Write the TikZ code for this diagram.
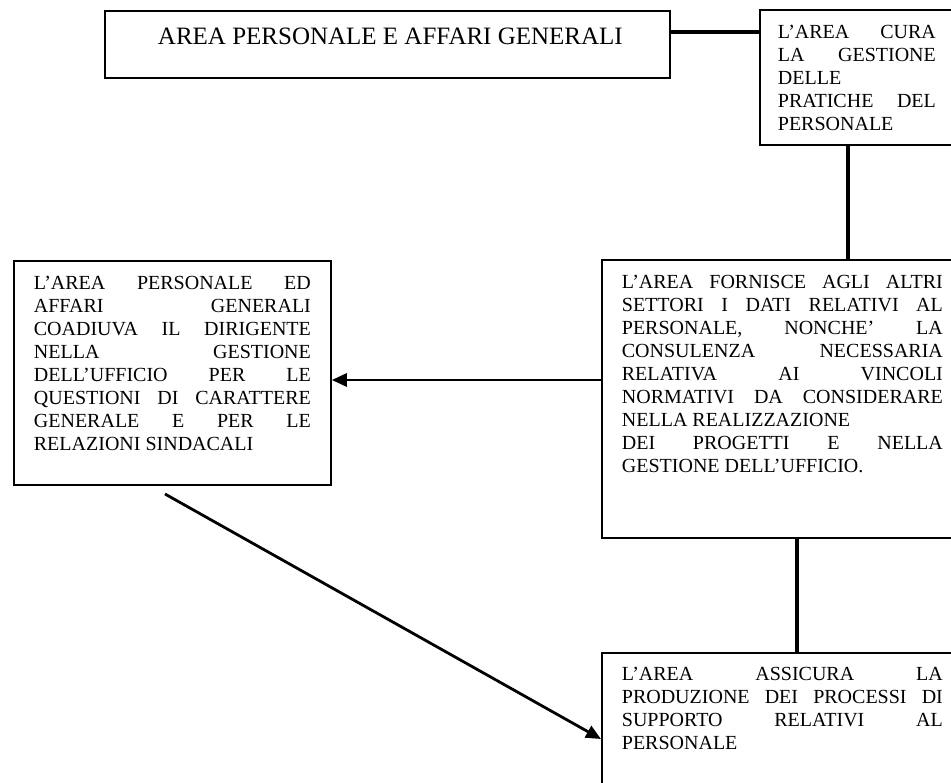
\documentclass[tikz,border=0pt]{standalone}
\usepackage{fontspec}
\setmainfont{Liberation Serif}
\usetikzlibrary{arrows.meta}

% A text panel: #1 text width, #2 box height, #3 first baseline below the top, #4 lines
\newcommand{\panel}[4]{\vbox to #2{\hsize=#1\relax\lineskiplimit=-100pt
  \hbox{}\vskip\dimexpr#3-\baselineskip\relax #4\vss}}
% a justified line and a flush-left closing line
\newcommand{\jline}[1]{\hbox to\hsize{#1}}
\newcommand{\lastln}[1]{\hbox to\hsize{#1\hfil}}

\tikzset{
  panelbox/.style={draw, line width=1.8pt, inner ysep=0pt, inner xsep=20pt,
    anchor=north west, font=\fontsize{20pt}{23pt}\selectfont},
  conn/.style={line width=3.2pt},
  arr/.style={line width=2.8pt, -{Triangle[length=15pt,width=13pt]}}
}

\begin{document}
\frenchspacing
\begin{tikzpicture}[x=1pt,y=-1pt]
  \clip (0,0) rectangle (951,783);

  % title box
  \node[panelbox, inner xsep=0pt, font=\fontsize{25pt}{28pt}\selectfont] (title) at (104,10)
    {\panel{565pt}{67pt}{33.5pt}{\hbox to\hsize{\hfil\hskip6pt AREA PERSONALE E AFFARI GENERALI\hfil}}};

  % top right box
  \node[panelbox, inner xsep=18pt] (tr) at (759,9.5)
    {\panel{158pt}{134.5pt}{28.5pt}{%
      \jline{L’AREA CURA}
      \jline{LA GESTIONE}
      \lastln{DELLE}
      \jline{PRATICHE DEL}
      \lastln{PERSONALE}}};

  % left box
  \node[panelbox] (left) at (13,260)
    {\panel{277pt}{224pt}{28.5pt}{%
      \jline{L’AREA PERSONALE ED}
      \jline{AFFARI GENERALI}
      \jline{COADIUVA IL DIRIGENTE}
      \jline{NELLA GESTIONE}
      \jline{DELL’UFFICIO PER LE}
      \jline{QUESTIONI DI CARATTERE}
      \jline{GENERALE E PER LE}
      \lastln{RELAZIONI SINDACALI}}};

  % middle right box
  \node[panelbox] (mid) at (601,259)
    {\panel{321pt}{278pt}{28.5pt}{%
      \jline{L’AREA FORNISCE AGLI ALTRI}
      \jline{SETTORI I DATI RELATIVI AL}
      \jline{PERSONALE, NONCHE’ LA}
      \jline{CONSULENZA NECESSARIA}
      \jline{RELATIVA AI VINCOLI}
      \jline{NORMATIVI DA CONSIDERARE}
      \lastln{NELLA REALIZZAZIONE}
      \jline{DEI PROGETTI E NELLA}
      \lastln{GESTIONE DELL’UFFICIO.}}};

  % bottom right box
  \node[panelbox] (bot) at (601,652)
    {\panel{321pt}{160pt}{28pt}{%
      \jline{L’AREA ASSICURA LA}
      \jline{PRODUZIONE DEI PROCESSI DI}
      \jline{SUPPORTO RELATIVI AL}
      \lastln{PERSONALE}}};

  % connectors
  \coordinate (ya) at (0,32);
  \coordinate (xa) at (848,0);
  \coordinate (xb) at (797,0);
  \coordinate (yb) at (0,380);
  \coordinate (yc) at (0,739);
  \coordinate (dstart) at (165,494);

  \draw[conn] (title.east |- ya) -- (tr.west |- ya);
  \draw[conn] (tr.south -| xa) -- (mid.north -| xa);
  \draw[conn] (mid.south -| xb) -- (bot.north -| xb);
  \draw[arr] (mid.west |- yb) -- (left.east |- yb);
  \draw[arr] (dstart) -- (bot.west |- yc);
\end{tikzpicture}
\end{document}
